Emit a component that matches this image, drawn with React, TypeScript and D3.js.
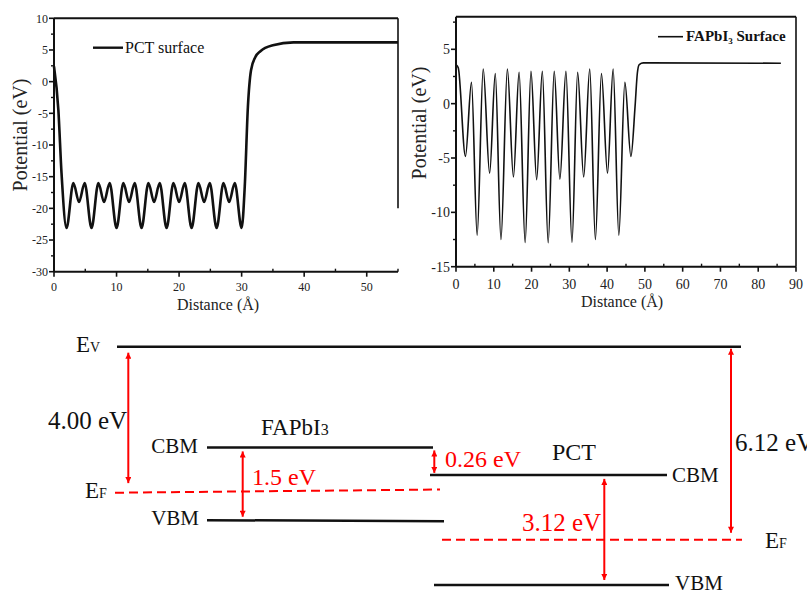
import * as d3 from "d3";

// PCT surface potential (left panel)
const pctX = [0, 0.7, 1.2, 2, 3.1, 4, 4.9, 6, 7.1, 8, 8.9, 10, 11.1, 12, 12.9, 14, 15.1, 16, 16.9, 18, 19.1, 20, 20.9, 22, 23.1, 24, 24.9, 26, 27.1, 28, 28.9, 30, 30.5, 31, 31.5, 32.2, 33, 35, 38.3, 55];
const pctY = [2.4, -4.5, -14.4, -23.1, -16, -19, -16, -23.1, -16, -19, -16, -23.1, -16, -19, -16, -23.1, -16, -19, -16, -23.1, -16, -19, -16, -23.1, -16, -19, -16, -23.1, -16, -19, -16, -23.1, -16.5, -4, 1.8, 3.9, 4.8, 5.75, 6.2, 6.2];

// FAPbI3 surface potential (right panel)
const faX = [0, 0.6, 2.5, 4.1, 5.6, 7.2, 8.9, 10.4, 11.9, 13.6, 15.2, 16.7, 18.3, 19.85, 21.35, 22.85, 24.4, 26.0, 27.5, 29.1, 30.7, 32.2, 33.8, 35.4, 36.9, 38.5, 40.1, 41.6, 43.1, 44.7, 46.3, 47.4, 48.0, 48.5, 49.6, 86];
const faY = [3.6, 3.3, -4.85, 1.96, -12.1, 3.19, -6.4, 2.76, -12.5, 3.19, -6.75, 2.88, -12.76, 2.97, -6.99, 2.97, -12.8, 2.97, -6.95, 2.97, -12.75, 2.88, -6.75, 3.19, -12.5, 2.76, -6.4, 3.19, -12.1, 1.96, -4.85, -0.25, 2.8, 3.6, 3.75, 3.72];

const pctXTicks = [0, 10, 20, 30, 40, 50];
const pctYTicks = [10, 5, 0, -5, -10, -15, -20, -25, -30];
const faXTicks = [0, 10, 20, 30, 40, 50, 60, 70, 80, 90];
const faYTicks = [5, 0, -5, -10, -15];

// band diagram (schematic energies, eV below vacuum as drawn)
const levelNames = ["Ev", "FAPbI3 CBM", "FAPbI3 EF", "FAPbI3 VBM", "PCT CBM", "PCT EF", "PCT VBM"];
const levelEnergies = [0, -2.79, -4.0, -4.82, -3.55, -5.35, -6.6];
const gapLabels = ["4.00 eV", "1.5 eV", "0.26 eV", "3.12 eV", "6.12 eV"];

const FONT = "Liberation Serif, Times New Roman, serif";
const RED = "#f00";

function Panel({ xs, ys, xDomain, yDomain, xRange, yRange, xTicks, yTicks, xMinorStep, yMinorStep, lineWidth, tickFont, xLabelY, titleY, yTitleX, yTitleY, xTitleX, rightSpineTo }: any) {
  const x = d3.scaleLinear().domain(xDomain).range(xRange);
  const y = d3.scaleLinear().domain(yDomain).range(yRange);
  const line = d3
    .line<number>()
    .x((_, i) => x(xs[i]))
    .y((d) => y(d))
    .curve(d3.curveMonotoneX);
  const xMinor = d3.range(xDomain[0] + xMinorStep, xDomain[1] + 0.001, xMinorStep * 2);
  const yMinor = d3.range(yDomain[0] + yMinorStep, yDomain[1] + 0.001, yMinorStep * 2);
  const [x0, x1] = xRange;
  const [yb, yt] = yRange;
  return (
    <g>
      <path d={line(ys) as string} fill="none" stroke="#111" strokeWidth={lineWidth} />
      {/* frame */}
      <line x1={x0} x2={x1} y1={yt} y2={yt} stroke="#111" strokeWidth={2} />
      <line x1={x0} x2={x1} y1={yb} y2={yb} stroke="#111" strokeWidth={2} />
      <line x1={x0} x2={x0} y1={yt} y2={yb} stroke="#111" strokeWidth={2} />
      <line x1={x1} x2={x1} y1={yt} y2={rightSpineTo != null ? y(rightSpineTo) : yb} stroke="#111" strokeWidth={1.6} />
      {yTicks.map((t: number) => (
        <g key={"y" + t}>
          <line x1={x0 - 5} x2={x0} y1={y(t)} y2={y(t)} stroke="#111" strokeWidth={1.6} />
          <text x={x0 - 6} y={y(t)} dy="0.35em" textAnchor="end" fontSize={tickFont} fontFamily={FONT} fill="#222">
            {t}
          </text>
        </g>
      ))}
      {yMinor.map((t: number) => (
        <line key={"ym" + t} x1={x0 - 3} x2={x0} y1={y(t)} y2={y(t)} stroke="#111" strokeWidth={1.4} />
      ))}
      {xTicks.map((t: number) => (
        <g key={"x" + t}>
          <line x1={x(t)} x2={x(t)} y1={yb} y2={yb + 5} stroke="#111" strokeWidth={1.6} />
          <text x={x(t)} y={xLabelY} textAnchor="middle" fontSize={tickFont} fontFamily={FONT} fill="#222">
            {t}
          </text>
        </g>
      ))}
      {xMinor.map((t: number) => (
        <line key={"xm" + t} x1={x(t)} x2={x(t)} y1={yb} y2={yb - 3} stroke="#111" strokeWidth={1.4} />
      ))}
      <text x={xTitleX} y={titleY} textAnchor="middle" fontSize={16} fontFamily={FONT} fill="#222">
        Distance (Å)
      </text>
      <text transform={`translate(${yTitleX},${yTitleY}) rotate(-90)`} textAnchor="middle" fontSize={20} fontFamily={FONT} fill="#222">
        Potential (eV)
      </text>
    </g>
  );
}

function Arrow({ x, y1, y2 }: { x: number; y1: number; y2: number }) {
  return <line x1={x} x2={x} y1={y1} y2={y2} stroke={RED} strokeWidth={2} markerStart="url(#ah)" markerEnd="url(#ah)" />;
}

function BandDiagram() {
  const e = d3.scaleLinear().domain([0, -6.6]).range([346.7, 585]);
  const lv = (name: string) => e(levelEnergies[levelNames.indexOf(name)]);
  const ev = lv("Ev");
  const fc = lv("FAPbI3 CBM");
  const ff = lv("FAPbI3 EF");
  const fvb = lv("FAPbI3 VBM");
  const pc = lv("PCT CBM");
  const pf = lv("PCT EF");
  const pvb = lv("PCT VBM");
  const txt = { fontFamily: FONT } as const;
  return (
    <g>
      <defs>
        <marker id="ah" viewBox="0 0 10 10" refX="10" refY="5" markerWidth="7" markerHeight="6" markerUnits="userSpaceOnUse" orient="auto-start-reverse">
          <path d="M0,0 L10,5 L0,10 z" fill={RED} />
        </marker>
      </defs>
      {/* levels */}
      <line x1={117} x2={741} y1={ev} y2={ev} stroke="#111" strokeWidth={2.5} />
      <line x1={207} x2={433} y1={fc} y2={fc} stroke="#111" strokeWidth={2.5} />
      <line x1={207} x2={444} y1={fvb - 0.6} y2={fvb + 0.6} stroke="#111" strokeWidth={2.5} />
      <line x1={115} x2={440} y1={ff + 1.6} y2={ff - 1.6} stroke={RED} strokeWidth={2} strokeDasharray="9 5" />
      <line x1={430} x2={667} y1={pc} y2={pc} stroke="#111" strokeWidth={2.5} />
      <line x1={442} x2={742} y1={pf} y2={pf} stroke={RED} strokeWidth={2} strokeDasharray="9 5" />
      <line x1={434} x2={669} y1={pvb} y2={pvb} stroke="#111" strokeWidth={2.5} />

      {/* gaps */}
      <Arrow x={128.3} y1={ev + 6} y2={ff - 8} />
      <Arrow x={242.7} y1={fc + 4} y2={fvb - 4} />
      <Arrow x={434.3} y1={fc + 3} y2={pc - 2} />
      <Arrow x={604.3} y1={pc + 4} y2={pvb - 5} />
      <Arrow x={731} y1={ev + 2} y2={pf - 7} />

      <text x={48} y={429} fontSize={25} {...txt} fill="#111">{gapLabels[0]}</text>
      <text x={252} y={485} fontSize={24} {...txt} fill={RED}>{gapLabels[1]}</text>
      <text x={445} y={467} fontSize={24} {...txt} fill={RED}>{gapLabels[2]}</text>
      <text x={522} y={531} fontSize={25} {...txt} fill={RED}>{gapLabels[3]}</text>
      <text x={735} y={451} fontSize={25} {...txt} fill="#111">{gapLabels[4]}</text>

      {/* level labels */}
      <text x={76} y={351.5} {...txt} fill="#111">
        <tspan fontSize={23}>E</tspan>
        <tspan fontSize={14}>V</tspan>
      </text>
      <text x={85} y={498} {...txt} fill="#111">
        <tspan fontSize={23}>E</tspan>
        <tspan fontSize={14}>F</tspan>
      </text>
      <text x={765} y={548} {...txt} fill="#111">
        <tspan fontSize={23}>E</tspan>
        <tspan fontSize={14}>F</tspan>
      </text>
      <text x={198} y={453} textAnchor="end" fontSize={21} {...txt} fill="#111">CBM</text>
      <text x={199} y={525} textAnchor="end" fontSize={21} {...txt} fill="#111">VBM</text>
      <text x={672} y={482} fontSize={21} {...txt} fill="#111">CBM</text>
      <text x={675} y={590} fontSize={21} {...txt} fill="#111">VBM</text>
      <text x={261} y={435} {...txt} fill="#111">
        <tspan fontSize={23}>FAPbI</tspan>
        <tspan fontSize={16}>3</tspan>
      </text>
      <text x={552} y={460} fontSize={24} {...txt} fill="#111">PCT</text>
    </g>
  );
}

export default function App() {
  return (
    <svg width={807} height={594} viewBox="0 0 807 594" style={{ position: "absolute", left: 0, top: 0, background: "#fff" }}>
      <rect width={807} height={594} fill="#fff" />
      <Panel
        xs={pctX}
        ys={pctY}
        xDomain={[0, 55]}
        yDomain={[-30, 10]}
        xRange={[54, 398]}
        yRange={[271.7, 18.3]}
        xTicks={pctXTicks}
        yTicks={pctYTicks}
        xMinorStep={5}
        yMinorStep={2.5}
        lineWidth={2.6}
        tickFont={12}
        xLabelY={291}
        titleY={310}
        xTitleX={218}
        yTitleX={27}
        yTitleY={135}
        rightSpineTo={-20}
      />
      <line x1={93} x2={123} y1={47.7} y2={47.7} stroke="#111" strokeWidth={2.4} />
      <text x={125} y={52.5} fontSize={16} fontFamily={FONT} fill="#111">PCT surface</text>

      <Panel
        xs={faX}
        ys={faY}
        xDomain={[0, 90]}
        yDomain={[-15, 8]}
        xRange={[456, 796]}
        yRange={[266.7, 16.7]}
        xTicks={faXTicks}
        yTicks={faYTicks}
        xMinorStep={5}
        yMinorStep={2.5}
        lineWidth={1.6}
        tickFont={14}
        xLabelY={289}
        titleY={307}
        xTitleX={622}
        yTitleX={426}
        yTitleY={123}
      />
      <line x1={658} x2={683} y1={36.7} y2={36.7} stroke="#111" strokeWidth={1.6} />
      <text x={686} y={41} fontSize={15} fontWeight="bold" fontFamily={FONT} fill="#111">
        FAPbI<tspan fontSize={9} dy={3}>3</tspan>
        <tspan dy={-3}> Surface</tspan>
      </text>

      <BandDiagram />
    </svg>
  );
}
